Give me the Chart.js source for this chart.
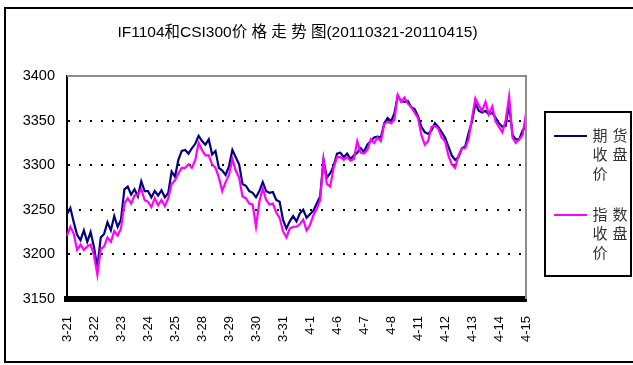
<!DOCTYPE html>
<html><head><meta charset="utf-8">
<script src="https://cdn.jsdelivr.net/npm/chart.js@4"></script>
<style>html,body{margin:0;padding:0;background:#fff}canvas{display:block}</style>
</head><body>
<canvas id="c" width="633" height="365"></canvas>
<script>
const titleText = 'IF1104和CSI300价 格 走 势 图(20110321-20110415)';
const dayLabels = ['3-21','3-22','3-23','3-24','3-25','3-28','3-29','3-30','3-31','4-1','4-6','4-7','4-8','4-11','4-12','4-13','4-14','4-15'];
const futuresName = '期货收盘价';
const indexName = '指数收盘价';
const pointsPerDay = 8;
const futuresClose = [
3245,3252,3236,3222,3216,3227,3214,3225,
3208,3185,3219,3223,3236,3227,3243,3231,
3239,3273,3276,3267,3273,3265,3282,3271,
3271,3264,3271,3266,3272,3264,3269,3293,
3287,3306,3316,3317,3313,3319,3324,3333,
3327,3323,3329,3312,3316,3297,3294,3289,
3299,3317,3309,3301,3279,3277,3271,3269,
3264,3271,3281,3271,3269,3270,3261,3259,
3239,3229,3237,3243,3237,3246,3250,3241,
3245,3249,3257,3265,3306,3286,3291,3299,
3313,3314,3309,3313,3307,3311,3314,3319,
3315,3323,3327,3331,3332,3331,3347,3353,
3349,3358,3378,3372,3371,3372,3365,3363,
3355,3343,3337,3335,3339,3347,3343,3337,
3331,3321,3311,3306,3309,3319,3321,3336,
3349,3369,3361,3359,3361,3357,3359,3353,
3347,3343,3344,3369,3334,3329,3329,3339,
3343];
const indexClose = [
3221,3231,3223,3205,3211,3205,3209,3211,
3199,3177,3206,3209,3219,3214,3226,3221,
3229,3257,3263,3257,3266,3267,3273,3261,
3259,3253,3263,3255,3261,3254,3263,3279,
3283,3291,3297,3297,3301,3297,3306,3325,
3317,3311,3311,3301,3297,3286,3271,3281,
3289,3307,3294,3286,3265,3263,3257,3256,
3231,3259,3274,3261,3256,3257,3247,3241,
3226,3219,3229,3231,3231,3234,3239,3227,
3233,3244,3251,3261,3306,3279,3276,3297,
3309,3309,3306,3309,3305,3307,3327,3314,
3313,3317,3329,3325,3331,3327,3346,3349,
3347,3351,3379,3371,3376,3369,3365,3359,
3353,3334,3323,3327,3343,3344,3341,3331,
3327,3311,3301,3297,3311,3319,3319,3329,
3353,3375,3367,3361,3371,3357,3366,3349,
3343,3337,3351,3377,3331,3325,3329,3334,
3358];
const yMin = 3150, yMax = 3400, yStep = 50;
const futuresColor = '#000080';
const indexColor = '#FF00FF';

const categories = futuresClose.map((v, i) => i % pointsPerDay === 0 ? dayLabels[i / pointsPerDay] : '');

const decorPlugin = {
  id: 'decor',
  beforeDraw(chart) {
    const ctx = chart.ctx;
    ctx.save();
    ctx.fillStyle = '#fff';
    ctx.fillRect(0, 0, chart.width, chart.height);
    ctx.restore();
  },
  afterDraw(chart) {
    const ctx = chart.ctx;
    const a = chart.chartArea;
    ctx.save();
    // outer frame
    ctx.strokeStyle = '#000';
    ctx.lineWidth = 2;
    ctx.beginPath();
    ctx.moveTo(640, 8); ctx.lineTo(5, 8); ctx.lineTo(5, 362); ctx.lineTo(640, 362);
    ctx.stroke();
    // plot frame top/right
    ctx.strokeStyle = '#8c8c8c';
    ctx.lineWidth = 2;
    ctx.beginPath();
    ctx.moveTo(a.left, a.top); ctx.lineTo(a.right, a.top); ctx.lineTo(a.right, a.bottom);
    ctx.stroke();
    // title
    ctx.fillStyle = '#000';
    ctx.font = '15.5px "Liberation Sans", "Noto Sans CJK SC", sans-serif';
    ctx.textAlign = 'center';
    ctx.textBaseline = 'middle';
    ctx.fillText(titleText, (a.left + a.right) / 2 + 1, 33);
    // legend
    const bx = 545, by = 112, bw = 86, bh = 164;
    ctx.strokeStyle = '#000';
    ctx.lineWidth = 2;
    ctx.strokeRect(bx, by, bw, bh);
    const items = chart.data.datasets.slice().sort((p, q) => p.legendIndex - q.legendIndex);
    items.forEach((ds, k) => {
      const y0 = 136 + k * 79;
      ctx.strokeStyle = ds.borderColor;
      ctx.lineWidth = 2;
      ctx.beginPath(); ctx.moveTo(554, y0); ctx.lineTo(587, y0); ctx.stroke();
      ctx.fillStyle = '#333';
      ctx.font = '15px "Noto Sans CJK SC", sans-serif';
      ctx.textAlign = 'center';
      ctx.textBaseline = 'middle';
      const chars = Array.from(ds.label);
      chars.forEach((ch, j) => {
        const col = j % 2, row = Math.floor(j / 2);
        ctx.fillText(ch, 600 + col * 20, y0 - 1 + row * 19);
      });
    });
    ctx.restore();
  }
};

new Chart(document.getElementById('c'), {
  type: 'line',
  data: {
    labels: categories,
    datasets: [
      { label: futuresName, data: futuresClose, borderColor: futuresColor, backgroundColor: futuresColor,
        borderWidth: 2.2, pointRadius: 0, tension: 0, order: 1, legendIndex: 0 },
      { label: indexName, data: indexClose, borderColor: indexColor, backgroundColor: indexColor,
        borderWidth: 2.2, pointRadius: 0, tension: 0, order: 0, legendIndex: 1 }
    ]
  },
  options: {
    responsive: false,
    animation: false,
    events: [],
    layout: { padding: { left: 0, right: 107, top: 76, bottom: 0 } },
    plugins: { legend: { display: false }, tooltip: { enabled: false }, title: { display: false } },
    scales: {
      x: {
        type: 'category',
        offset: false,
        grid: { display: false, drawTicks: false },
        border: { display: true, color: '#000', width: 6 },
        ticks: {
          autoSkip: false, maxRotation: 90, minRotation: 90, padding: 17,
          color: '#000', font: { family: '"Liberation Sans", Arial, sans-serif', size: 13 }
        },
        afterFit(s) { s.height = 66; }
      },
      y: {
        min: yMin, max: yMax,
        grid: {
          drawTicks: false, lineWidth: 2,
          color: (c) => (c.tick && (c.tick.value === yMin || c.tick.value === yMax)) ? 'rgba(0,0,0,0)' : '#000'
        },
        border: { display: true, color: '#000', width: 2, dash: [2, 9] },
        ticks: {
          stepSize: yStep, padding: 12, color: '#000',
          callback: (v) => String(v),
          font: { family: '"Liberation Sans", Arial, sans-serif', size: 14.5 }
        },
        afterFit(s) { s.width = 67; }
      }
    }
  },
  plugins: [decorPlugin]
});
</script>
</body></html>
